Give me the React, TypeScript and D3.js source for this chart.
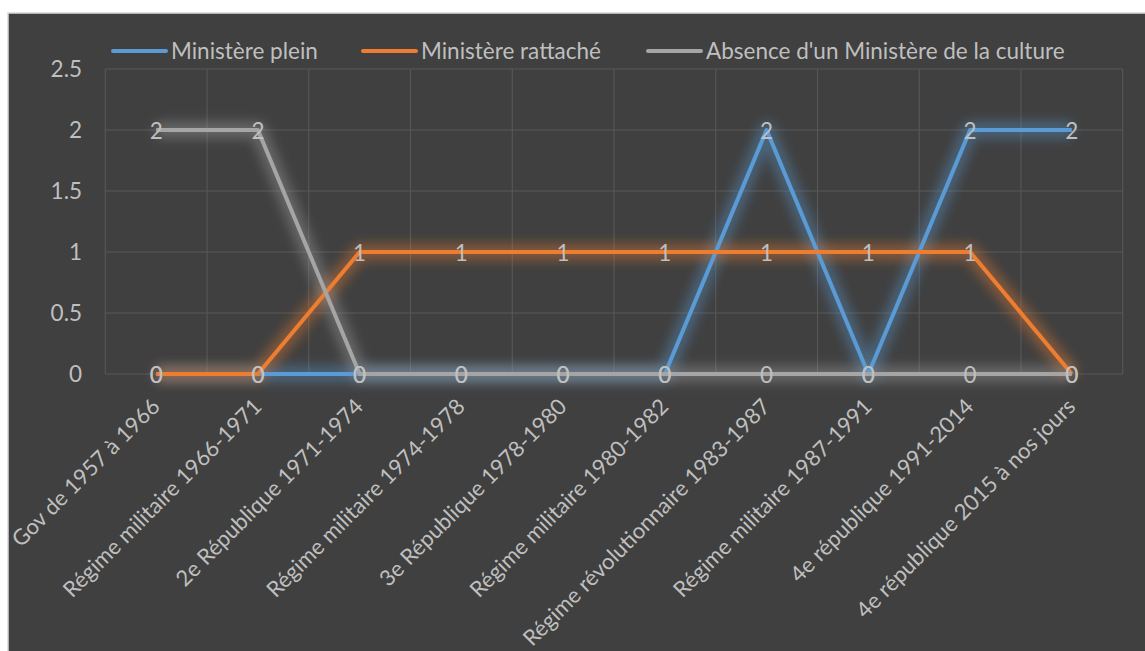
import React from "react";
import * as d3 from "d3";

const categories = [
  "Gov de 1957 à 1966",
  "Régime militaire 1966-1971",
  "2e République 1971-1974",
  "Régime militaire 1974-1978",
  "3e République 1978-1980",
  "Régime militaire 1980-1982",
  "Régime révolutionnaire 1983-1987",
  "Régime militaire 1987-1991",
  "4e république 1991-2014",
  "4e république 2015 à nos jours",
];
const seriesNames = ["Ministère plein", "Ministère rattaché", "Absence d'un Ministère de la culture"];
const pleinValues = [0, 0, 0, 0, 0, 0, 2, 0, 2, 2];
const rattacheValues = [0, 0, 1, 1, 1, 1, 1, 1, 1, 0];
const absenceValues = [2, 2, 0, 0, 0, 0, 0, 0, 0, 0];
const yTicks = [0, 0.5, 1, 1.5, 2, 2.5];
const colors = ["#5B9BD5", "#ED7D31", "#A5A5A5"];

const W = 1145;
const H = 651;
const FONT = "Lato, 'Open Sans', sans-serif";
const TXT = "#bfbfbf";

export default function App() {
  const left = 105.3;
  const right = 1122.7;
  const top = 69;
  const bottom = 374;
  const x = d3.scaleBand<number>().domain(d3.range(categories.length)).range([left, right]);
  const y = d3.scaleLinear().domain([0, 2.5]).range([bottom, top]);
  const cx = (i: number) => (x(i) as number) + x.bandwidth() / 2;
  const line = d3.line<number>().x((_, i) => cx(i)).y((v) => y(v));
  const series = [pleinValues, rattacheValues, absenceValues];
  const legendX = [113, 363, 648];

  return (
    <svg width={W} height={H} style={{ position: "absolute", left: 0, top: 0 }} fontFamily={FONT}>
      <defs>
        <filter id="glow" x="-20%" y="-50%" width="140%" height="200%">
          <feGaussianBlur stdDeviation="6" />
        </filter>
      </defs>
      <rect x={0} y={0} width={W} height={H} fill="#ffffff" />
      <rect x={8} y={13} width={W} height={H} fill="#404040" stroke="#d9d9d9" strokeWidth={1.5} />
      {/* grid */}
      {yTicks.map((t) => (
        <line key={"h" + t} x1={left} x2={right} y1={y(t)} y2={y(t)} stroke="#595959" strokeWidth={1} />
      ))}
      {d3.range(categories.length + 1).map((i) => {
        const xx = left + i * x.step();
        return <line key={"v" + i} x1={xx} x2={xx} y1={top} y2={bottom} stroke="#595959" strokeWidth={1} />;
      })}
      {/* y tick labels */}
      {yTicks.map((t) => (
        <text key={"yt" + t} x={82} y={y(t)} dy="0.36em" textAnchor="end" fill={TXT} fontSize={22.5}>
          {t}
        </text>
      ))}
      {/* glow */}
      {series.map((vals, s) => (
        <path key={"g" + s} d={line(vals) || ""} fill="none" stroke={colors[s]} strokeWidth={16} strokeOpacity={0.4} filter="url(#glow)" strokeLinejoin="round" />
      ))}
      {/* lines */}
      {series.map((vals, s) => (
        <path key={"l" + s} d={line(vals) || ""} fill="none" stroke={colors[s]} strokeWidth={4} strokeLinejoin="round" />
      ))}
      {/* data labels */}
      {series.map((vals, s) =>
        vals.map((v, i) => (
          <text key={"dl" + s + "-" + i} x={cx(i)} y={y(v)} dy="0.38em" textAnchor="middle" fill={TXT} fontSize={22.5}>
            {v}
          </text>
        ))
      )}
      {/* x labels */}
      {categories.map((c, i) => (
        <text key={"xl" + i} transform={`translate(${cx(i) + 5},${bottom + 34}) rotate(-45)`} textAnchor="end" fill={TXT} fontSize={22}>
          {c}
        </text>
      ))}
      {/* legend */}
      {seriesNames.map((n, s) => (
        <g key={"lg" + s}>
          <line x1={legendX[s]} x2={legendX[s] + 53} y1={51} y2={51} stroke={colors[s]} strokeWidth={4} strokeLinecap="round" />
          <text x={legendX[s] + 58} y={51} dy="0.36em" fill={TXT} fontSize={22.5}>
            {n}
          </text>
        </g>
      ))}
    </svg>
  );
}
